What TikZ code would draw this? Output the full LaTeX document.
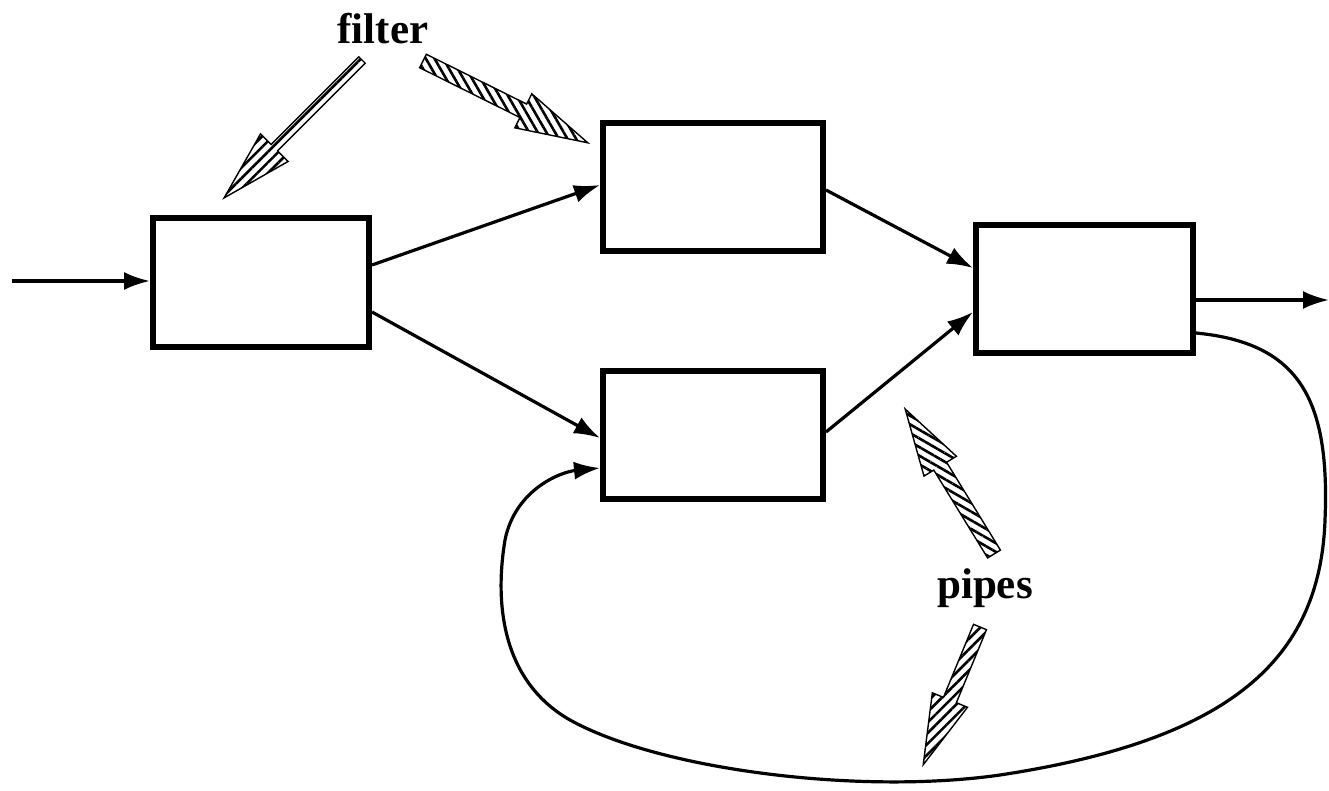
\documentclass[tikz,border=0pt]{standalone}
\usepackage{fontspec}
\setmainfont{Liberation Serif}
\usetikzlibrary{arrows.meta,patterns.meta}
\tikzset{
  box/.style={draw, line width=6pt, minimum width=#1, minimum height=128pt, inner sep=0pt},
  conn/.style={line width=3.2pt, -{Latex[length=26pt,width=18pt]}},
  lbl/.style={font=\fontsize{43}{43}\selectfont\bfseries, inner sep=0pt},
  fat/.style={draw, line width=1.4pt}
}
% fat hatched arrow: tail, angle, length, shaft half width, head length, head half width, hatch angle
\newcommand{\fatarrow}[7]{%
  \begin{scope}[shift={#1}, rotate=#2]
    \filldraw[fat, pattern={Lines[angle=#7,distance=7.5pt,line width=2.6pt]}]
      (0,#4) -- ({#3-#5},#4) -- ({#3-#5},#6) -- (#3,0) -- ({#3-#5},-#6)
      -- ({#3-#5},-#4) -- (0,-#4) -- cycle;
  \end{scope}}
\begin{document}
\begin{tikzpicture}[x=1pt,y=-1pt]
\useasboundingbox (0,0) rectangle (1329,791);
\node[box=216pt, minimum height=129pt] (A) at (261,282.5) {};
\node[box=220pt] (B) at (713,187) {};
\node[box=220pt] (C) at (713,435) {};
\node[box=217pt] (D) at (1084.5,289) {};
\coordinate (in) at (12,281);
\coordinate (out) at (1329,300);
\draw[conn] (in) -- ([yshift=1.5pt]A.west);
\draw[conn] ([yshift=17.5pt]A.east) -- ([yshift=2pt]B.west);
\draw[conn] ([yshift=-29.5pt]A.east) -- ([yshift=-3pt]C.west);
\draw[conn] ([yshift=-3pt]B.east) -- ([yshift=21pt]D.west);
\draw[conn] ([yshift=3pt]C.east) -- ([yshift=-23pt]D.west);
\draw[conn] ([yshift=-11pt]D.east) -- (out);
\draw[conn] ([yshift=-44pt]D.east) .. controls (1300,343) and (1330,400) .. (1325,520)
  .. controls (1320,660) and (1230,740) .. (1000,775)
  .. controls (860,795) and (660,770) .. (570,720)
  .. controls (500,680) and (495,600) .. (505,540)
  .. controls (515,490) and (560,472) .. ([yshift=-33pt]C.west);
\node[lbl] (filter) at (383,29) {filter};
\node[lbl] (pipes) at (985,588) {pipes};
\fatarrow{(362,60)}{225}{195}{4.5}{71}{19.5}{45}
\fatarrow{(423,61)}{-26.4}{184}{7.5}{72}{19}{-60}
\fatarrow{(994,554)}{121.5}{170}{7.5}{67}{19}{-30}
\fatarrow{(980,627)}{247.6}{149}{7}{70}{19}{45}
\end{tikzpicture}
\end{document}
